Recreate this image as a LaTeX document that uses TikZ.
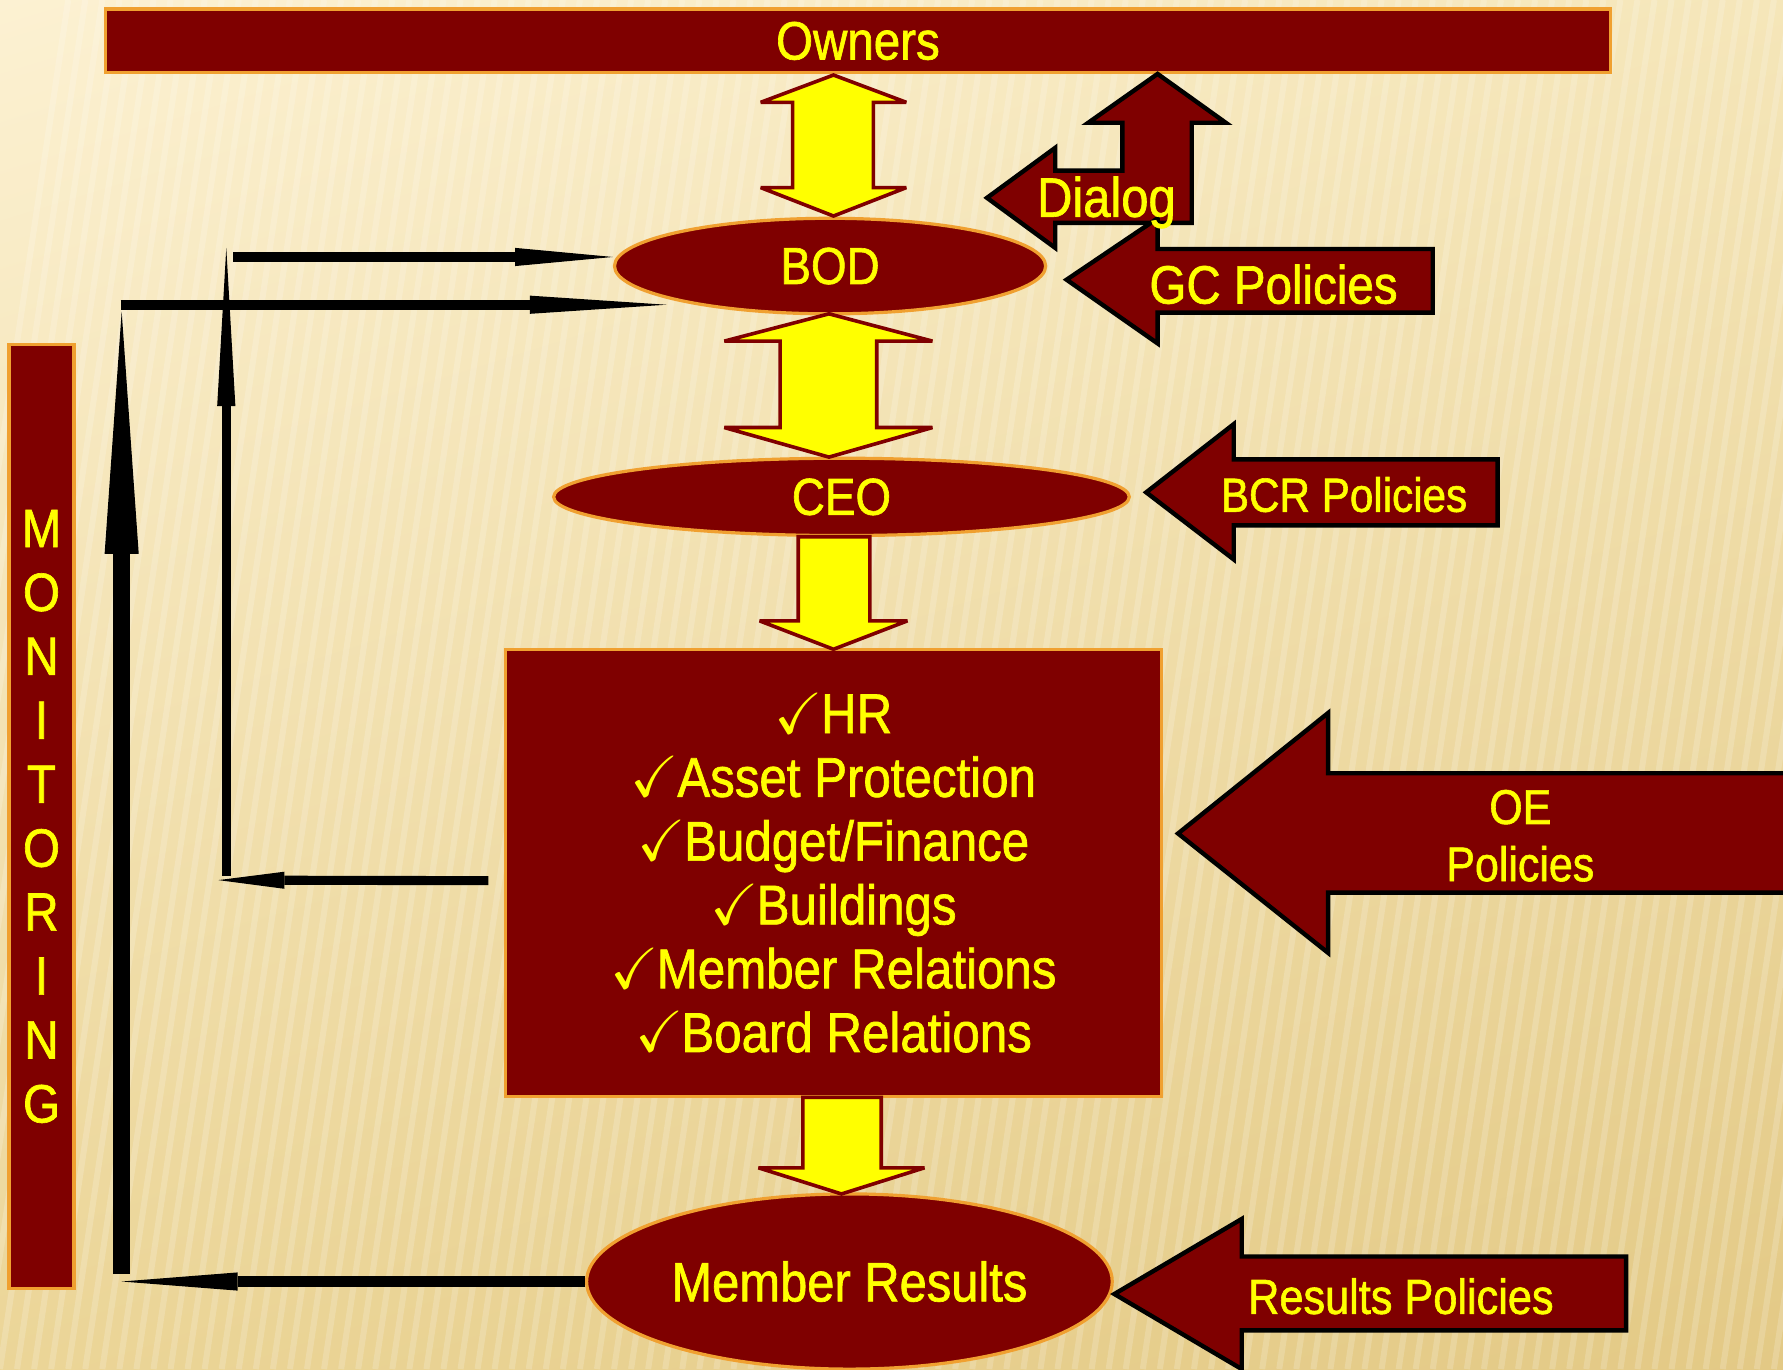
\documentclass[tikz,border=0pt]{standalone}
\usepackage{amssymb}
\usepackage{fontspec}
\setmainfont{Liberation Sans}[FakeStretch=0.88, FakeBold=1.2]
\usetikzlibrary{arrows.meta,shapes.geometric,shadings}

\definecolor{maroon}{HTML}{7F0000}
\definecolor{rim}{HTML}{F0A030}
\definecolor{lemon}{HTML}{FFFF00}
\definecolor{paperA}{HTML}{FCF1D2}
\definecolor{paperB}{HTML}{F5E6B9}
\definecolor{paperC}{HTML}{EBD597}
\definecolor{paperD}{HTML}{E3C985}
\newcommand{\okmark}{{\fontsize{14.5}{12}\selectfont$\checkmark$}\kern-0.5pt}

\begin{document}
\begin{tikzpicture}[x=0.01cm, y=-0.01cm,
    txt/.style={text=lemon, font=\fontsize{13.5}{16}\selectfont},
    bar/.style={rectangle, draw=rim, fill=maroon, line width=0.8pt, inner sep=0pt, txt},
    oval/.style={ellipse, draw=rim, fill=maroon, line width=0.8pt, inner sep=0pt, txt},
    flow/.style={draw=maroon, fill=lemon, line width=0.9pt, line join=miter, miter limit=4},
    policy/.style={draw=black, fill=maroon, line width=1.1pt, line join=miter},
    tip/.style 2 args={-{Triangle[length=#1, width=#2, line width=0pt]}}]
    \useasboundingbox (0,0) rectangle (1568,1204);
    \shade[upper left=paperA, upper right=paperB, lower left=paperC, lower right=paperD] (0,0) rectangle (1568,1204); %Fundo
    \foreach \k in {0,...,115} \draw[white, opacity=0.18, line width=1.5pt] (\k*15-120,1204) -- (\k*15+60,0); %Listras

        %Caixas
    \node[bar, minimum width=13.23cm, minimum height=0.56cm] (owners) at (754.5,36) {Owners};
    \node[oval, minimum width=3.79cm, minimum height=0.84cm, font=\fontsize{13}{16}\selectfont] (bod) at (730,234) {BOD};
    \node[oval, minimum width=5.06cm, minimum height=0.68cm, font=\fontsize{13}{16}\selectfont] (ceo) at (740,437) {CEO};
    \node[bar, minimum width=5.76cm, minimum height=3.93cm, align=center, font=\fontsize{14}{15.95}\selectfont] (tasks) at (733,767.5)
        {\okmark HR\\\okmark Asset Protection\\\okmark Budget/Finance\\\okmark Buildings\\\okmark Member Relations\\\okmark Board Relations};
    \node[oval, minimum width=4.62cm, minimum height=1.54cm, font=\fontsize{13.9}{16}\selectfont] (results) at (747,1127) {Member Results};
    \node[bar, minimum width=0.57cm, minimum height=8.30cm, align=center, font=\fontsize{13.5}{15.99}\selectfont] (monitor) at (36.5,718)
        {M\\O\\N\\I\\T\\O\\R\\I\\N\\G};

        %Setas amarelas
    \draw[flow] (733,66) -- (797,90) -- (768,90) -- (768,165) -- (797,165) -- (733,190) -- (669,165) -- (697,165) -- (697,90) -- (669,90) -- cycle; %Owners - BOD
    \draw[flow] (729,276) -- (820,300) -- (771,300) -- (771,376) -- (820,376) -- (729,402) -- (637,376) -- (686,376) -- (686,300) -- (637,300) -- cycle; %BOD - CEO
    \draw[flow] (702,472) -- (765,472) -- (765,546) -- (798,546) -- (733,571) -- (668,546) -- (702,546) -- cycle; %CEO - lista
    \draw[flow] (706,965) -- (775,965) -- (775,1027) -- (813,1027) -- (740,1050) -- (667,1027) -- (706,1027) -- cycle; %lista - resultados

        %Setas de politicas
    \draw[policy] (868,174) -- (928,130) -- (928,150) -- (987,150) -- (987,108) -- (957,108) -- (1018,65) -- (1078,108) -- (1048,108) -- (1048,196) -- (928,196) -- (928,218) -- cycle; %Dialog
    \draw[policy] (938,246) -- (1018,192) -- (1018,219) -- (1260,219) -- (1260,275) -- (1018,275) -- (1018,302) -- cycle; %GC
    \draw[policy] (1008,433) -- (1085,373) -- (1085,404) -- (1317,404) -- (1317,462) -- (1085,462) -- (1085,492) -- cycle; %BCR
    \draw[policy] (1036,733) -- (1168,627) -- (1168,680) -- (1590,680) -- (1590,785) -- (1168,785) -- (1168,838) -- cycle; %OE
    \draw[policy] (980,1138) -- (1092,1072) -- (1092,1105) -- (1430,1105) -- (1430,1170) -- (1092,1170) -- (1092,1204) -- cycle; %Results
    \node[txt, font=\fontsize{13.9}{16}\selectfont] (dialog) at (973,178) {Dialog};
    \node[txt] (gc) at (1120,250) {GC Policies};
    \node[txt, font=\fontsize{12}{16}\selectfont] (bcr) at (1182,435) {BCR Policies};
    \node[txt, align=center, font=\fontsize{12.2}{14.3}\selectfont] (oe) at (1337,735) {OE\\Policies};
    \node[txt, font=\fontsize{12.3}{16}\selectfont] (rp) at (1232,1140) {Results Policies};

        %Setas pretas (monitoramento)
    \coordinate (climb) at (107,1120);
    \coordinate (climbtop) at (107,274);
    \coordinate (feedA) at (106,268);
    \coordinate (feedAend) at (586,268);
    \coordinate (rise) at (199,770);
    \coordinate (risetop) at (199,218);
    \coordinate (feedB) at (205,226);
    \coordinate (turn) at (192,774);
    \coordinate (back) at (107,1127);
    \draw[line width=0.145cm, tip={2.13cm}{0.30cm}] (climb) -- (climbtop);
    \draw[line width=0.09cm, tip={1.2cm}{0.16cm}] (feedA) -- (feedAend);
    \draw[line width=0.08cm, tip={1.39cm}{0.16cm}] (rise) -- (risetop);
    \draw[line width=0.09cm, tip={0.86cm}{0.16cm}] (feedB) -- (feedB -| bod.west);
    \draw[line width=0.08cm, tip={0.58cm}{0.15cm}] ([shift={(-14,7)}]tasks.west) -- (turn);
    \draw[line width=0.09cm, tip={1.02cm}{0.16cm}] (results.west) -- (back);
\end{tikzpicture}
\end{document}
